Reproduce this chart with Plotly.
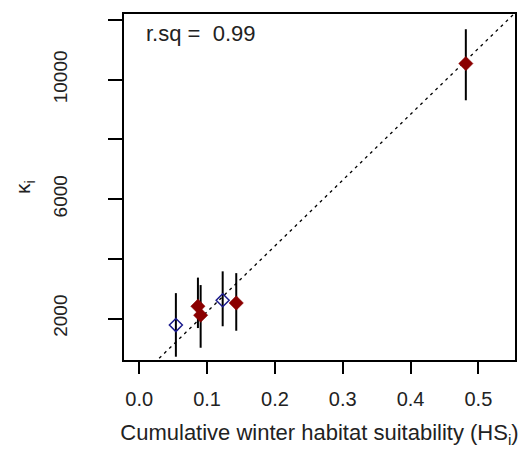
import plotly.graph_objects as go

# Data
hs_open = [0.054, 0.123]
k_open = [1780, 2610]
k_open_hi = [2850, 3580]
k_open_lo = [720, 1740]

hs_fill = [0.0865, 0.0905, 0.143, 0.4815]
k_fill = [2410, 2110, 2520, 10540]
k_fill_hi = [3370, 3120, 3520, 11690]
k_fill_lo = [1680, 1020, 1590, 9310]

fit_slope = 22050
fit_intercept = 20
rsq_label = "r.sq =  0.99"

x_ticks = [0.0, 0.1, 0.2, 0.3, 0.4, 0.5]
y_ticks = [2000, 4000, 6000, 8000, 10000, 12000]
y_ticktext = ["2000", "", "6000", "", "10000", ""]

x_range = [-0.0225, 0.554]
y_range = [610, 12200]

fig = go.Figure()

line_x = [x_range[0], x_range[1]]
line_y = [fit_intercept + fit_slope * v for v in line_x]
fig.add_trace(go.Scatter(x=line_x, y=line_y, mode="lines",
                         line=dict(color="black", width=1.3, dash="3px,4px"),
                         hoverinfo="skip", showlegend=False))

fig.add_trace(go.Scatter(
    x=hs_open, y=k_open, mode="markers",
    marker=dict(symbol="diamond-open", size=10, color="#1a1a8c",
                line=dict(width=1.5, color="#1a1a8c")),
    error_y=dict(type="data", symmetric=False,
                 array=[h - v for h, v in zip(k_open_hi, k_open)],
                 arrayminus=[v - l for l, v in zip(k_open_lo, k_open)],
                 color="black", thickness=2, width=0),
    showlegend=False))

fig.add_trace(go.Scatter(
    x=hs_fill, y=k_fill, mode="markers",
    marker=dict(symbol="diamond", size=11, color="#8b0000",
                line=dict(width=0.5, color="#8b0000")),
    error_y=dict(type="data", symmetric=False,
                 array=[h - v for h, v in zip(k_fill_hi, k_fill)],
                 arrayminus=[v - l for l, v in zip(k_fill_lo, k_fill)],
                 color="black", thickness=2, width=0),
    showlegend=False))

fig.add_annotation(x=0.05, y=0.945, xref="paper", yref="paper",
                   text=rsq_label, showarrow=False, xanchor="left",
                   yanchor="middle", font=dict(size=22, color="#222"))

fig.update_layout(
    width=526, height=453,
    margin=dict(l=124, r=9, t=14, b=93),
    paper_bgcolor="white", plot_bgcolor="white",
    font=dict(family="Liberation Sans, Arial, sans-serif", size=20, color="#222"),
    xaxis=dict(range=x_range, tickvals=x_ticks,
               ticktext=[f"{v:.1f}" for v in x_ticks],
               showgrid=False, zeroline=False, showline=True, mirror=True,
               linecolor="black", linewidth=1.5, ticks="outside", ticklen=12,
               tickwidth=1.5, tickcolor="black", ticklabelstandoff=8,
               tickfont=dict(size=20),
               title=dict(text="Cumulative winter habitat suitability (HS<sub>i</sub>)",
                          font=dict(size=22), standoff=16)),
    yaxis=dict(range=y_range, tickvals=y_ticks, ticktext=y_ticktext,
               tickangle=-90,
               showgrid=False, zeroline=False, showline=True, mirror=True,
               linecolor="black", linewidth=1.5, ticks="outside", ticklen=14,
               tickwidth=1.5, tickcolor="black", ticklabelstandoff=34,
               tickfont=dict(size=19),
               title=dict(text="κ<sub>i</sub>", font=dict(size=21), standoff=13)),
)

fig.write_html("out.html")
